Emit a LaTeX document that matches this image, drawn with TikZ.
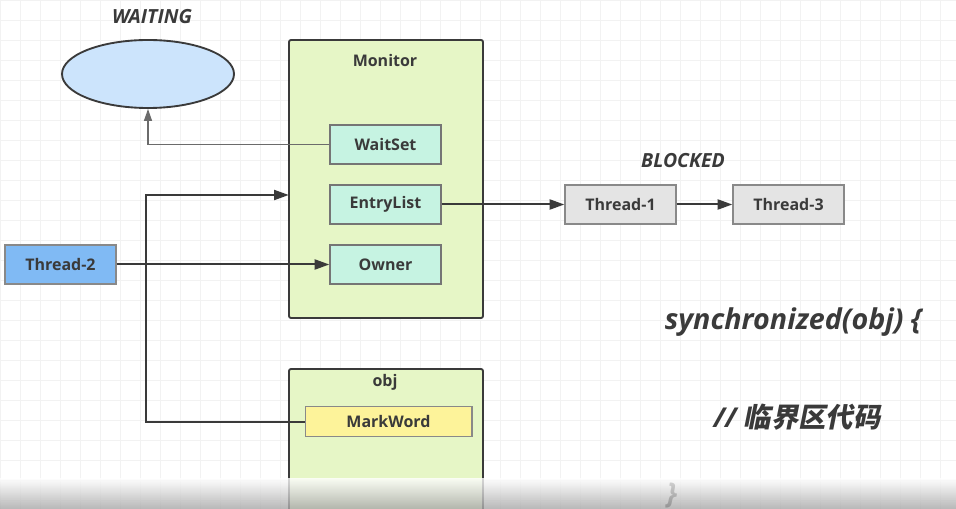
\documentclass[tikz,border=0pt]{standalone}
\usepackage{fontspec}
\setmainfont{Open Sans}
\newfontfamily\cjk[FakeSlant=0.2]{Noto Sans CJK SC}
\usetikzlibrary{arrows.meta,shapes.geometric}
\definecolor{monfill}{HTML}{E6F6C6}
\definecolor{inner}{HTML}{C6F3E2}
\definecolor{t2fill}{HTML}{80BAF4}
\definecolor{ellfill}{HTML}{CCE4FC}
\definecolor{grayfill}{HTML}{E4E4E4}
\definecolor{mwfill}{HTML}{FDF39A}
\definecolor{ink}{HTML}{3A3A3A}
\tikzset{
  px/.style={x=0.75pt,y=-0.75pt},
  box/.style={draw=#1,line width=1pt,minimum width=83.25pt,minimum height=29.25pt,inner sep=0pt,font=\bfseries\fontsize{12}{14}\selectfont,text=ink},
  container/.style={draw=ink,line width=1.4pt,fill=monfill,rounded corners=1.5pt},
  lbl/.style={font=\bfseries\itshape\fontsize{14.6}{17}\selectfont,text=ink},
  conn/.style={draw=ink,line width=1.5pt,-{Triangle[length=11pt,width=7.5pt]}},
  thin/.style={draw=ink!75,line width=1pt,-{Triangle[length=9pt,width=6pt]}},
  code/.style={font=\bfseries\itshape\fontsize{21.5}{25}\selectfont,text=ink}
}
\begin{document}
\begin{tikzpicture}[px]
\clip (0,0) rectangle (956,509);
\fill[white] (0,0) rectangle (956,509);
% faint grid
\foreach \x in {0,20,...,956} \draw[black!5,line width=0.4pt] (\x,0) -- (\x,509);
\foreach \y in {0,20,...,509} \draw[black!5,line width=0.4pt] (0,\y) -- (956,\y);

% containers
\draw[container] (289,40) rectangle (483,318);
\node[font=\bfseries\fontsize{12}{14}\selectfont,text=ink] (montitle) at (385,61) {Monitor};
\path (289,40) rectangle (483,318) node[midway,inner sep=0pt,minimum width=145.5pt,minimum height=208.5pt] (mon) {};
\draw[container] (289,369) rectangle (483,530);
\node[font=\bfseries\fontsize{12}{14}\selectfont,text=ink] (objtitle) at (385,382) {obj};

% waiting
\node[lbl] (waitlbl) at (152,17) {WAITING};
\node[ellipse,draw=ink,line width=1.4pt,fill=ellfill,minimum width=129pt,minimum height=51pt,inner sep=0pt] (wait) at (148,74) {};

% inner boxes
\node[box=ink!70,fill=inner] (ws) at (385.5,144.5) {WaitSet};
\node[box=ink!70,fill=inner] (el) at (385.5,204.5) {EntryList};
\node[box=ink!70,fill=inner] (ow) at (385.5,264.5) {Owner};
\node[box=ink!60,fill=t2fill] (t2) at (60.5,264.5) {Thread-2};
\node[box=ink!60,fill=grayfill] (t1) at (620.5,204.5) {Thread-1};
\node[box=ink!60,fill=grayfill] (t3) at (788.5,204.5) {Thread-3};
\node[box=ink!60,fill=mwfill,minimum width=125pt,minimum height=22.5pt] (mw) at (388.5,421.5) {MarkWord};
\node[lbl] (blk) at (683,161) {BLOCKED};

% connectors
\draw[thin] (ws.west) -| (wait.south);
\draw[conn] (t2.east) -- (ow.west);
\draw[conn] (el.east) -- (t1.west);
\draw[conn] (t1.east) -- (t3.west);
\coordinate (turn) at (146,195);
\draw[conn] (mw.west) -| (turn) -- (turn -| mon.west);

% code text
\node[code] (code1) at (793,322) {synchronized(obj) \{};
\node[code,font=\bfseries\itshape\fontsize{20.5}{24}\selectfont,anchor=west] (code2) at (709,417) {// {\cjk\bfseries 临界区代码}};
\node[code,anchor=south,inner sep=0pt] (code3) at (672,508) {\}};

% bottom video shade
\shade[top color=white,bottom color=black!35,opacity=0.8] (0,478) rectangle (956,509);
\end{tikzpicture}
\end{document}
